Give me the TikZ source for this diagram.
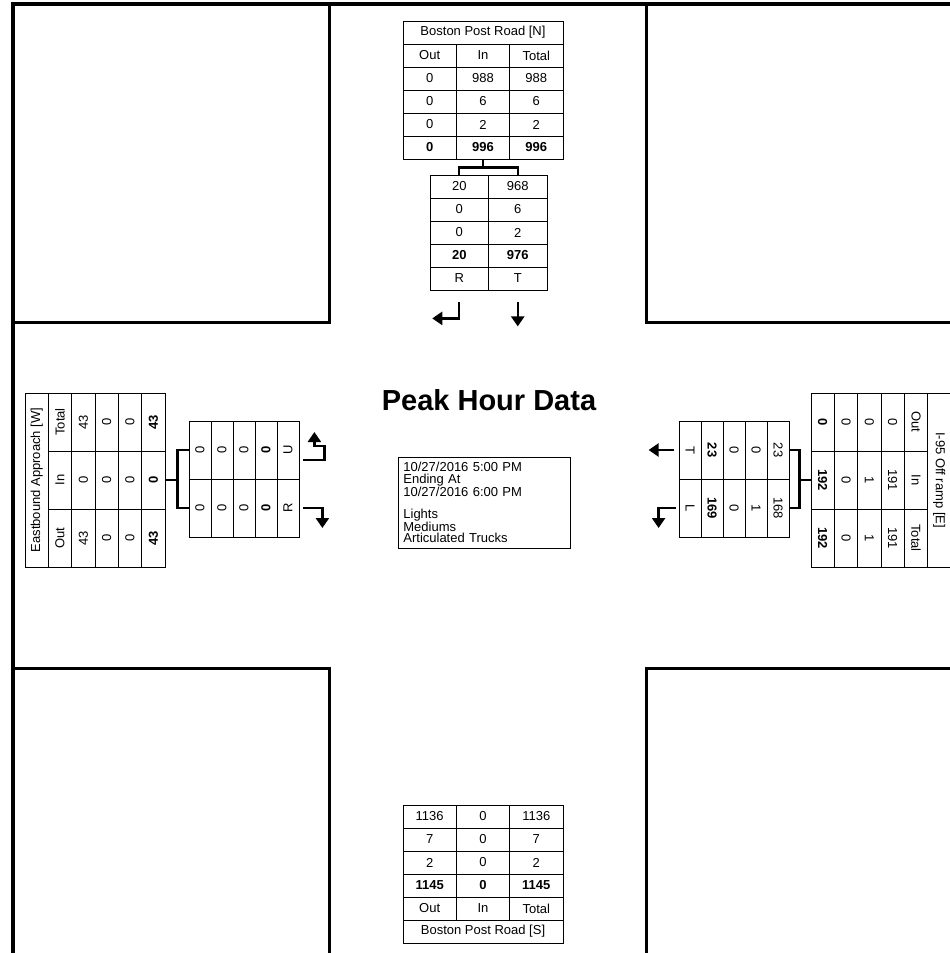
\documentclass[tikz,border=0pt]{standalone}
\usepackage{fontspec}
\setmainfont{Liberation Sans}
\usetikzlibrary{arrows.meta,positioning}

\begin{document}
\begin{tikzpicture}[x=1pt,y=-1pt,>={Triangle[width=13pt,length=10pt]},
    block/.style={line width=3pt},
    cell/.style={draw,line width=0.8pt,inner sep=0pt,
                 font=\fontsize{13}{15}\selectfont},
    ncell/.style={cell,minimum width=53.33pt,minimum height=23pt},
    lcell/.style={cell,minimum width=58.5pt,minimum height=23pt},
    wcell/.style={cell,rotate=90,minimum width=58pt,minimum height=23.33pt},
    wlcell/.style={cell,rotate=90,minimum width=58pt,minimum height=22pt},
    ecell/.style={cell,rotate=-90,minimum width=58pt,minimum height=23.33pt},
    elcell/.style={cell,rotate=-90,minimum width=58pt,minimum height=22pt},
    bracket/.style={line width=2.4pt},
    turn/.style={line width=2.4pt,->}]
  \useasboundingbox (0,0) rectangle (950,953);

  % corners of the intersection
  \draw[block] (13,4) rectangle (329,322);
  \draw[block] (646,4) rectangle (956,322);
  \draw[block] (13,668) rectangle (329,958);
  \draw[block] (646,668) rectangle (956,958);
  \draw[line width=4pt] (13,955) -- (13,4) -- (952,4);

  % north approach
  \node[cell,minimum width=160pt,minimum height=23pt] (ntitle) at (483,32.5)
    {Boston Post Road [N]};
  \foreach \o/\i/\t [count=\k] in {Out/In/Total,0/988/988,0/6/6,0/2/2} {
    \node[ncell] (nOut\k) at (429.67,32.5+23*\k) {\o};
    \node[ncell] (nIn\k) at (483,32.5+23*\k) {\i};
    \node[ncell] (nTot\k) at (536.33,32.5+23*\k) {\t};
  }
  \node[ncell,font=\fontsize{13}{15}\selectfont\bfseries] (nOut5) at (429.67,147.5) {0};
  \node[ncell,font=\fontsize{13}{15}\selectfont\bfseries] (nIn5) at (483,147.5) {996};
  \node[ncell,font=\fontsize{13}{15}\selectfont\bfseries] (nTot5) at (536.33,147.5) {996};

  \foreach \r/\t [count=\k] in {20/968,0/6,0/2} {
    \node[lcell] (nR\k) at (459.25,163.5+23*\k) {\r};
    \node[lcell] (nT\k) at (517.75,163.5+23*\k) {\t};
  }
  \node[lcell,font=\fontsize{13}{15}\selectfont\bfseries] (nR4) at (459.25,255.5) {20};
  \node[lcell,font=\fontsize{13}{15}\selectfont\bfseries] (nT4) at (517.75,255.5) {976};
  \node[lcell] (nR5) at (459.25,278.5) {R};
  \node[lcell] (nT5) at (517.75,278.5) {T};

  \draw[bracket] (nIn5.south) -- ++(0,9);
  \draw[bracket] (nR1.north) -- ++(0,-7) -| (nT1.north);
  \draw[turn] (nR5.south) ++(0,12) |- ++(-27,16);
  \draw[turn] (nT5.south) ++(0,12) -- ++(0,24);

  % west approach
  \node[cell,rotate=90,minimum width=174pt,minimum height=23.33pt] (wtitle)
    at (36.67,480) {Eastbound Approach [W]};
  \foreach \o/\i/\t [count=\k] in {Out/In/Total,43/0/43,0/0/0,0/0/0} {
    \node[wcell] (wOut\k) at (36.67+23.33*\k,538) {\o};
    \node[wcell] (wIn\k) at (36.67+23.33*\k,480) {\i};
    \node[wcell] (wTot\k) at (36.67+23.33*\k,422) {\t};
  }
  \node[wcell,font=\fontsize{13}{15}\selectfont\bfseries] (wOut5) at (153.33,538) {43};
  \node[wcell,font=\fontsize{13}{15}\selectfont\bfseries] (wIn5) at (153.33,480) {0};
  \node[wcell,font=\fontsize{13}{15}\selectfont\bfseries] (wTot5) at (153.33,422) {43};

  \foreach \u/\r [count=\k] in {0/0,0/0,0/0} {
    \node[wlcell] (wU\k) at (178+22*\k,450) {\u};
    \node[wlcell] (wR\k) at (178+22*\k,508) {\r};
  }
  \node[wlcell,font=\fontsize{13}{15}\selectfont\bfseries] (wU4) at (266,450) {0};
  \node[wlcell,font=\fontsize{13}{15}\selectfont\bfseries] (wR4) at (266,508) {0};
  \node[wlcell] (wU5) at (288,450) {U};
  \node[wlcell] (wR5) at (288,508) {R};

  \draw[bracket] (wIn5.south) -- ++(12,0) coordinate (wfork);
  \draw[bracket] (wU1.north) -| (wfork) |- (wR1.north);
  \draw[turn] (wU5.south) ++(4,10) -| ++(21,-14) -| ++(-10,-14);
  \draw[turn] (wR5.south) ++(4,0) -| ++(19,20);

  % east approach
  \node[cell,rotate=-90,minimum width=174pt,minimum height=23.33pt] (etitle)
    at (939.33,480) {I-95 Off ramp [E]};
  \foreach \o/\i/\t [count=\k] in {Out/In/Total,0/191/191,0/1/1,0/0/0} {
    \node[ecell] (eOut\k) at (939.33-23.33*\k,422) {\o};
    \node[ecell] (eIn\k) at (939.33-23.33*\k,480) {\i};
    \node[ecell] (eTot\k) at (939.33-23.33*\k,538) {\t};
  }
  \node[ecell,font=\fontsize{13}{15}\selectfont\bfseries] (eOut5) at (822.67,422) {0};
  \node[ecell,font=\fontsize{13}{15}\selectfont\bfseries] (eIn5) at (822.67,480) {192};
  \node[ecell,font=\fontsize{13}{15}\selectfont\bfseries] (eTot5) at (822.67,538) {192};

  \foreach \t/\l [count=\k] in {23/168,0/1,0/0} {
    \node[elcell] (eT\k) at (800-22*\k,450) {\t};
    \node[elcell] (eL\k) at (800-22*\k,508) {\l};
  }
  \node[elcell,font=\fontsize{13}{15}\selectfont\bfseries] (eT4) at (712,450) {23};
  \node[elcell,font=\fontsize{13}{15}\selectfont\bfseries] (eL4) at (712,508) {169};
  \node[elcell] (eT5) at (690,450) {T};
  \node[elcell] (eL5) at (690,508) {L};

  \draw[bracket] (eIn5.south) -- ++(-11,0) coordinate (efork);
  \draw[bracket] (eT1.north) -| (efork) |- (eL1.north);
  \draw[turn] (eT5.south) ++(-5,0) -- ++(-25,0);
  \draw[turn] (eL5.south) ++(-3,0) -| ++(-17,20);

  % south approach
  \foreach \o/\i/\t [count=\k] in {1136/0/1136,7/0/7,2/0/2} {
    \node[ncell] (sOut\k) at (429.67,793.5+23*\k) {\o};
    \node[ncell] (sIn\k) at (483,793.5+23*\k) {\i};
    \node[ncell] (sTot\k) at (536.33,793.5+23*\k) {\t};
  }
  \node[ncell,font=\fontsize{13}{15}\selectfont\bfseries] (sOut4) at (429.67,885.5) {1145};
  \node[ncell,font=\fontsize{13}{15}\selectfont\bfseries] (sIn4) at (483,885.5) {0};
  \node[ncell,font=\fontsize{13}{15}\selectfont\bfseries] (sTot4) at (536.33,885.5) {1145};
  \node[ncell] (sOut5) at (429.67,908.5) {Out};
  \node[ncell] (sIn5) at (483,908.5) {In};
  \node[ncell] (sTot5) at (536.33,908.5) {Total};
  \node[cell,minimum width=160pt,minimum height=23pt] (stitle) at (483,931.5)
    {Boston Post Road [S]};

  % centre
  \node[font=\fontsize{29}{33}\selectfont\bfseries] (peak) at (489,400) {Peak Hour Data};
  \node[draw,line width=0.8pt,anchor=north west,text width=162pt,inner xsep=5pt,
        inner ysep=5pt,align=left,font=\fontsize{13}{11.2}\selectfont] (info) at (398,457)
    {10/27/2016 5:00 PM\\Ending At\\10/27/2016 6:00 PM\\[11.2pt]Lights\\Mediums\\Articulated Trucks};
\end{tikzpicture}
\end{document}
